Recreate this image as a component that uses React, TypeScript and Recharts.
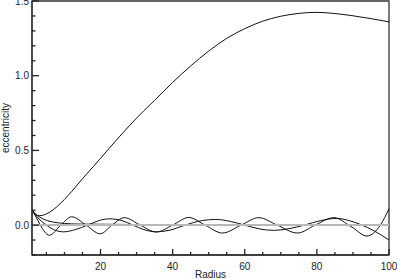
import React from 'react';
import { LineChart, Line, XAxis, YAxis, ReferenceArea } from 'recharts';

// Axis ranges
const radiusRange = [1, 100];
const eccRange = [-0.2, 1.5];

// Curve A (large rise)
const radiusA = [1, 2, 3, 4, 5, 6, 7, 8, 9, 10, 12, 14, 16, 18, 20, 22, 24, 26, 28, 30, 32, 35, 40, 45, 50, 55, 60, 65, 70, 75, 80, 85, 90, 95, 100];
const eccA = [0.1, 0.072, 0.063, 0.066, 0.075, 0.088, 0.105, 0.125, 0.148, 0.172, 0.225, 0.282, 0.338, 0.392, 0.447, 0.503, 0.558, 0.612, 0.665, 0.716, 0.765, 0.835, 0.955, 1.065, 1.165, 1.25, 1.315, 1.365, 1.398, 1.417, 1.424, 1.416, 1.401, 1.382, 1.36];

// Curve C (quick decay to zero)
const radiusC = [1, 2, 3, 4, 5, 6, 8, 10, 14, 20, 30, 40, 50, 60, 100];
const eccC = [0.1, 0.075, 0.056, 0.042, 0.032, 0.025, 0.016, 0.011, 0.007, 0.006, 0.004, 0.002, 0.001, 0, 0];

// Curve D (fast oscillation)
const radiusD = [1, 2, 3.3, 5.8, 9, 12, 16, 19.9, 23.2, 26.6, 31, 35.5, 40, 44.5, 49, 53.8, 59, 63.9, 69, 74.6, 79.5, 84.7, 89.5, 93.9, 97.6, 100];
const eccD = [0.1, 0.06, 0.0, -0.068, 0.0, 0.056, 0.0, -0.058, 0.0, 0.05, 0.0, -0.046, 0.0, 0.051, 0.0, -0.053, 0.0, 0.05, 0.0, -0.053, 0.0, 0.05, -0.01, -0.073, 0.0, 0.11];

// Curve E (slow oscillation)
const radiusE = [1, 3, 5, 7, 9.8, 13, 16.5, 19.5, 22.5, 26, 29, 32, 35.5, 39, 43.5, 48, 52, 56, 60, 64, 68, 72, 76.5, 81, 85.5, 89, 92, 96, 100];
const eccE = [0.1, 0.04, 0.0, -0.03, -0.045, -0.03, 0.0, 0.03, 0.042, 0.03, 0.0, -0.03, -0.045, -0.035, 0.0, 0.03, 0.038, 0.025, 0.0, -0.025, -0.035, -0.025, 0.0, 0.03, 0.045, 0.03, 0.005, -0.04, -0.1];

// Zero reference line (grey)
const radiusZero = [1, 100];
const eccZero = [0, 0];

const xTicks = [5, 10, 15, 20, 25, 30, 35, 40, 45, 50, 55, 60, 65, 70, 75, 80, 85, 90, 95, 100];
const yTicks = [-0.2, -0.1, 0, 0.1, 0.2, 0.3, 0.4, 0.5, 0.6, 0.7, 0.8, 0.9, 1.0, 1.1, 1.2, 1.3, 1.4, 1.5];

const toRows = (xs: number[], ys: number[]) => xs.map((r, i) => ({ r, e: ys[i] }));
const dataA = toRows(radiusA, eccA);
const dataC = toRows(radiusC, eccC);
const dataD = toRows(radiusD, eccD);
const dataE = toRows(radiusE, eccE);
const dataZero = toRows(radiusZero, eccZero);

const AX = '#333';
const TK = '#222';
const FONT = { fontFamily: '"Liberation Sans", Arial, sans-serif', fontSize: 10, fill: '#222' };

const isMajorX = (v: number) => v % 20 === 0;
const isMajorY = (v: number) => Math.abs(v * 2 - Math.round(v * 2)) < 1e-6;

const BottomTick = (p: any) => {
  const v = p.payload.value;
  const major = isMajorX(v);
  return (
    <g>
      <line x1={p.x} y1={p.y} x2={p.x} y2={p.y - (major ? 6 : 3)} stroke={TK} strokeWidth={1.3} />
      {major && (
        <text x={p.x} y={p.y + 15} textAnchor="middle" {...FONT}>
          {v}
        </text>
      )}
    </g>
  );
};

const TopTick = (p: any) => {
  const v = p.payload.value;
  const major = isMajorX(v);
  return <line x1={p.x} y1={p.y} x2={p.x} y2={p.y + (major ? 6 : 3)} stroke={TK} strokeWidth={1.3} />;
};

const LeftTick = (p: any) => {
  const v = p.payload.value;
  const major = isMajorY(v);
  return (
    <g>
      <line x1={p.x} y1={p.y} x2={p.x + (major ? 7 : 3.5)} y2={p.y} stroke={TK} strokeWidth={1.3} />
      {major && (
        <text x={p.x - 3} y={p.y + 3.5} textAnchor="end" {...FONT}>
          {v.toFixed(1)}
        </text>
      )}
    </g>
  );
};

const RightTick = (p: any) => {
  const v = p.payload.value;
  const major = isMajorY(v);
  return <line x1={p.x} y1={p.y} x2={p.x - (major ? 7 : 3.5)} y2={p.y} stroke={TK} strokeWidth={1.3} />;
};

const XTitle = () => (
  <text x={210.5} y={278} textAnchor="middle" {...FONT}>
    Radius
  </text>
);

const YTitle = () => (
  <text x={9} y={128} transform="rotate(-90 9 128)" textAnchor="middle" {...FONT}>
    eccentricity
  </text>
);

export default function App() {
  return (
    <div style={{ position: 'absolute', left: 0, top: 0 }}>
      <LineChart width={397} height={279} margin={{ top: 1, right: 8, bottom: 0, left: 0 }}>
        <XAxis
          dataKey="r"
          type="number"
          domain={radiusRange}
          ticks={xTicks}
          interval={0}
          height={24}
          tickSize={0}
          tickMargin={0}
          tick={<BottomTick />}
          axisLine={{ stroke: AX, strokeWidth: 1.3 }}
          tickLine={false}
          label={XTitle}
        />
        <XAxis
          xAxisId="top"
          orientation="top"
          dataKey="r"
          type="number"
          domain={radiusRange}
          ticks={xTicks}
          interval={0}
          height={0}
          tickSize={0}
          tickMargin={0}
          tick={<TopTick />}
          axisLine={{ stroke: AX, strokeWidth: 1.3 }}
          tickLine={false}
        />
        <YAxis
          type="number"
          domain={eccRange}
          ticks={yTicks}
          interval={0}
          width={32}
          tickSize={0}
          tickMargin={0}
          tick={<LeftTick />}
          axisLine={{ stroke: AX, strokeWidth: 1.3 }}
          tickLine={false}
          label={YTitle}
        />
        <YAxis
          yAxisId="right"
          orientation="right"
          type="number"
          domain={eccRange}
          ticks={yTicks}
          interval={0}
          width={0}
          tickSize={0}
          tickMargin={0}
          tick={<RightTick />}
          axisLine={{ stroke: AX, strokeWidth: 1.3 }}
          tickLine={false}
        />
        <ReferenceArea
          x1={radiusRange[0]}
          x2={radiusRange[1]}
          y1={eccRange[0]}
          y2={eccRange[1]}
          fill="none"
          fillOpacity={0}
          stroke={AX}
          strokeWidth={1.3}
          ifOverflow="visible"
        />
        <Line data={dataC} dataKey="e" type="monotone" stroke="#111" strokeWidth={1} dot={false} isAnimationActive={false} />
        <Line data={dataE} dataKey="e" type="monotone" stroke="#111" strokeWidth={1} dot={false} isAnimationActive={false} />
        <Line data={dataD} dataKey="e" type="monotone" stroke="#111" strokeWidth={1} dot={false} isAnimationActive={false} />
        <Line data={dataA} dataKey="e" type="monotone" stroke="#111" strokeWidth={1} dot={false} isAnimationActive={false} />
        <Line data={dataZero} dataKey="e" type="linear" stroke="#b8b8b8" strokeWidth={2} dot={false} isAnimationActive={false} />
      </LineChart>
    </div>
  );
}
